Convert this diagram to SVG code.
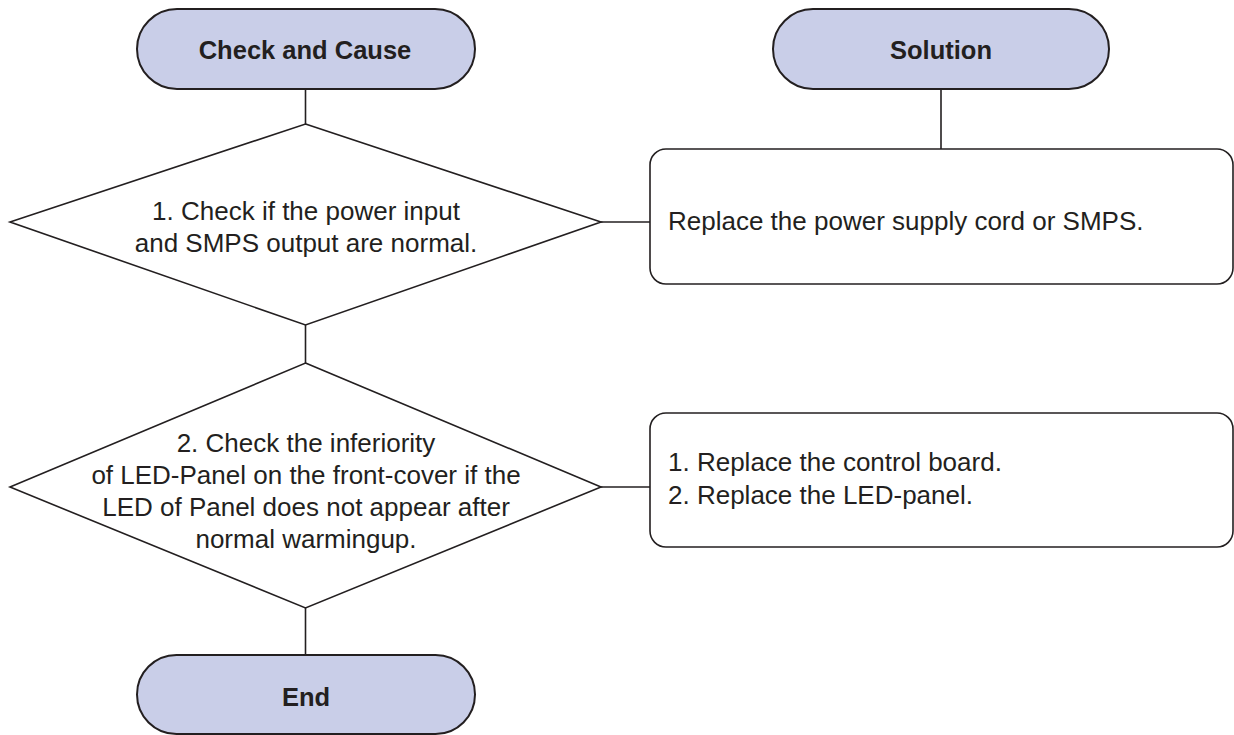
<svg xmlns="http://www.w3.org/2000/svg" width="1234" height="735" viewBox="0 0 1234 735">
<style>
.pill{fill:#c9cee8;stroke:#231f20;stroke-width:2}
.dia{fill:#fff;stroke:#231f20;stroke-width:1.6}
.box{fill:#fff;stroke:#231f20;stroke-width:1.6}
.conn line{stroke:#231f20;stroke-width:1.6}
text{font-family:"Liberation Sans",Arial,sans-serif;fill:#231f20;font-size:26px}
.b{font-weight:bold;text-anchor:middle;font-size:25.5px}
.c{text-anchor:middle}
</style>
<rect width="1234" height="735" fill="#fff"/>
<g class="conn">
<line x1="305.5" y1="89" x2="305.5" y2="124"/>
<line x1="941" y1="89" x2="941" y2="149"/>
<line x1="601" y1="222" x2="650" y2="222"/>
<line x1="305.5" y1="325" x2="305.5" y2="363"/>
<line x1="601" y1="487" x2="650" y2="487"/>
<line x1="305.5" y1="608" x2="305.5" y2="655"/>
</g>
<g id="check-cause">
<rect class="pill" x="137" y="9" width="338" height="80" rx="40"/>
<text class="b" x="305" y="59">Check and Cause</text>
</g>
<g id="solution">
<rect class="pill" x="773" y="9" width="336" height="80" rx="40"/>
<text class="b" x="941" y="59">Solution</text>
</g>
<g id="decision1">
<polygon class="dia" points="305.5,124 601,222 305.5,325 10,222"/>
<text class="c" x="306" y="220">1. Check if the power input</text>
<text class="c" x="306" y="252">and SMPS output are normal.</text>
</g>
<g id="solution1">
<rect class="box" x="650" y="149" width="583" height="135" rx="16"/>
<text x="668" y="230">Replace the power supply cord or SMPS.</text>
</g>
<g id="decision2">
<polygon class="dia" points="305.5,363 601,487 305.5,608 10,487"/>
<text class="c" x="306" y="452">2. Check the inferiority</text>
<text class="c" x="306" y="484">of LED-Panel on the front-cover if the</text>
<text class="c" x="306" y="516">LED of Panel does not appear after</text>
<text class="c" x="306" y="548">normal warmingup.</text>
</g>
<g id="solution2">
<rect class="box" x="650" y="413" width="583" height="134" rx="16"/>
<text x="668" y="471">1. Replace the control board.</text>
<text x="668" y="504">2. Replace the LED-panel.</text>
</g>
<g id="end">
<rect class="pill" x="137" y="655" width="338" height="79" rx="39.5"/>
<text class="b" x="306" y="706">End</text>
</g>
</svg>
